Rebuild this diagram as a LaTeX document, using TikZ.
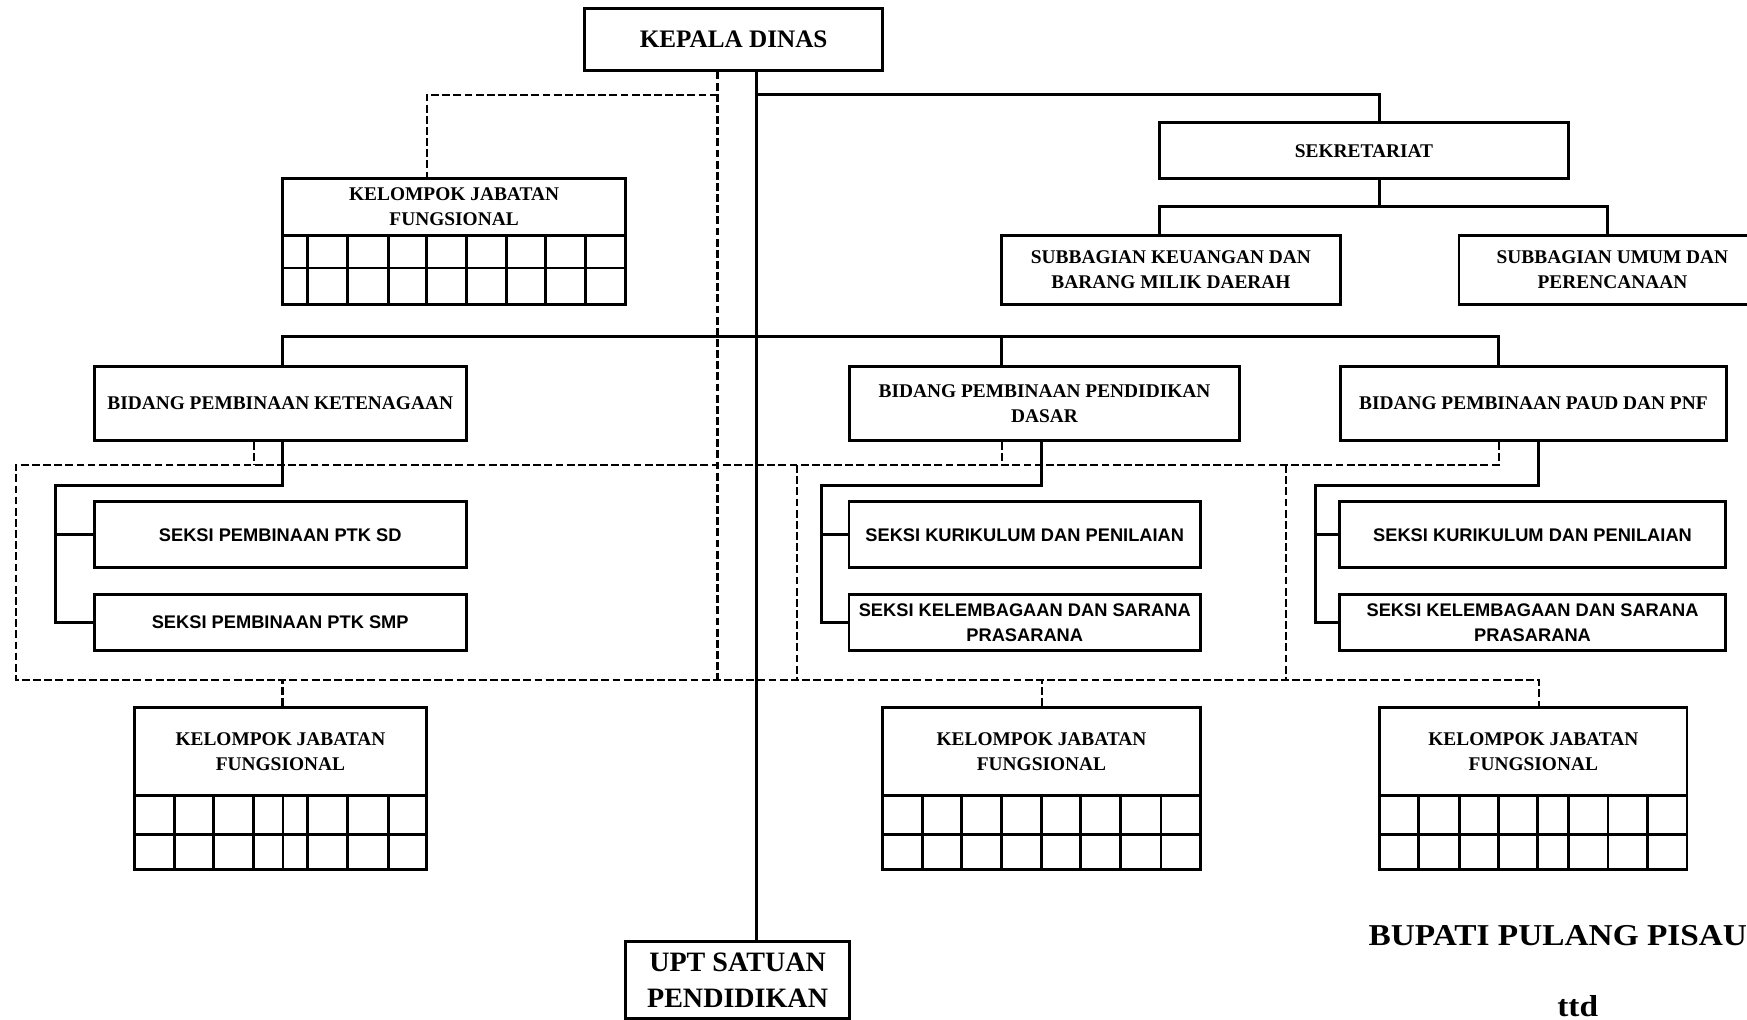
\documentclass[tikz,border=0pt]{standalone}
\usepackage{fontspec}
\setmainfont{Liberation Serif}
\setsansfont{Liberation Sans}
\newfontfamily\widserif[FakeStretch=1.1]{Liberation Serif}
\begin{document}
\begin{tikzpicture}[x=0.5pt,y=-0.5pt,
  ln/.style={line width=1.3pt},
  dl/.style={line width=0.95pt, dash pattern=on 3.5pt off 1.5pt},
  box/.style={draw, line width=1.3pt, inner sep=0pt, align=center},
  ser/.style={font=\fontsize{8.7pt}{11.25pt}\selectfont\bfseries},
  san/.style={font=\sffamily\bfseries\fontsize{8.2pt}{11pt}\selectfont},
  big/.style={font=\fontsize{12.6pt}{16pt}\selectfont\bfseries},
]
\useasboundingbox (0,0) rectangle (1568,915);
\begin{scope}
\clip (0,0) rectangle (1568,915);

% boxes
\node[box,minimum width=133.5pt,minimum height=27.5pt,font=\fontsize{11.3pt}{13pt}\selectfont\bfseries] (kepala) at (658.5,35.5) {KEPALA DINAS};
\node[box,ser,minimum width=183.25pt,minimum height=25.25pt] (sek) at (1224.25,135.25) {SEKRETARIAT};
\node[box,ser,minimum width=152.5pt,minimum height=30.75pt] (subkeu) at (1051,242.25) {SUBBAGIAN KEUANGAN DAN\\BARANG MILIK DAERAH};
\node[box,ser,minimum width=137.75pt,minimum height=30.75pt] (subum) at (1447.25,242.25) {SUBBAGIAN UMUM DAN\\PERENCANAAN};
\node[box,ser,minimum width=167pt,minimum height=33.25pt] (bid1) at (251.5,362.25) {BIDANG PEMBINAAN KETENAGAAN};
\node[box,ser,minimum width=175pt,minimum height=33.25pt] (bid2) at (937.5,362.25) {BIDANG PEMBINAAN PENDIDIKAN\\DASAR};
\node[box,ser,minimum width=173.25pt,minimum height=33.25pt] (bid3) at (1376.25,362.25) {BIDANG PEMBINAAN PAUD DAN PNF};
\node[box,san,minimum width=167pt,minimum height=29.5pt] (s1a) at (251.5,480) {SEKSI PEMBINAAN PTK SD};
\node[box,san,minimum width=167pt,minimum height=25.25pt] (s1b) at (251.5,558.75) {SEKSI PEMBINAAN PTK SMP};
\node[box,san,minimum width=157.75pt,minimum height=29.5pt] (s2a) at (919.75,480) {SEKSI KURIKULUM DAN PENILAIAN};
\node[box,san,minimum width=157.75pt,minimum height=25.25pt] (s2b) at (919.75,558.75) {SEKSI KELEMBAGAAN DAN SARANA\\PRASARANA};
\node[box,san,minimum width=173.5pt,minimum height=29.5pt] (s3a) at (1375.5,480) {SEKSI KURIKULUM DAN PENILAIAN};
\node[box,san,minimum width=173.5pt,minimum height=25.25pt] (s3b) at (1375.5,558.75) {SEKSI KELEMBAGAAN DAN SARANA\\PRASARANA};
\node[box,big,minimum width=100.5pt,minimum height=34.5pt] (upt) at (662,879.5) {UPT SATUAN\\PENDIDIKAN};

% kelompok jabatan fungsional
\node[box,ser,minimum width=154.05pt,minimum height=25.75pt] (kjf0) at (407.55,185.75) {KELOMPOK JABATAN\\FUNGSIONAL};
\node[box,ser,minimum width=131.1pt,minimum height=39.6pt] (kjf1) at (251.7,674.4) {KELOMPOK JABATAN\\FUNGSIONAL};
\node[box,ser,minimum width=142.6pt,minimum height=39.6pt] (kjf2) at (934.8,674.4) {KELOMPOK JABATAN\\FUNGSIONAL};
\node[box,ser,minimum width=137.9pt,minimum height=39.6pt] (kjf3) at (1376.2,674.4) {KELOMPOK JABATAN\\FUNGSIONAL};

\draw[ln] (253.5,211.5) rectangle (561.6,273.1) (253.5,240.5) -- (561.6,240.5);
\foreach \x in {276.2,312.2,348.3,382.8,418.3,454.4,489.5,525.5} \draw[ln] (\x,211.5) -- (\x,273.1);
\draw[ln] (120.6,714) rectangle (382.8,780) (120.6,749) -- (382.8,749);
\foreach \x in {156.6,191.6,227.2,254,276.2,312.2,348.3} \draw[ln] (\x,714) -- (\x,780);
\draw[ln] (792.2,714) rectangle (1077.4,780) (792.2,749) -- (1077.4,749);
\foreach \x in {828,863.2,899,934.8,970,1005.8,1042} \draw[ln] (\x,714) -- (\x,780);
\draw[ln] (1238.3,714) rectangle (1514.1,780) (1238.3,749) -- (1514.1,749);
\foreach \x in {1273.5,1309.8,1345,1380.3,1407.9,1443.2,1478.9} \draw[ln] (\x,714) -- (\x,780);

% signature
\node[anchor=base west,inner sep=0pt,font=\widserif\fontsize{13.6pt}{16pt}\selectfont\bfseries] (bupati) at (1228,849) {BUPATI PULANG PISAU};
\node[anchor=base,inner sep=0pt,font=\widserif\fontsize{13.6pt}{16pt}\selectfont\bfseries] (ttd) at (1416,912) {ttd};

% helper coordinates
\coordinate (xT) at (679,0);
\coordinate (xD) at (644,0);
\coordinate (jA) at (679,85);
\coordinate (xS) at (1238,85);
\coordinate (kk) at (1041,185);
\coordinate (uu) at (1443,185);
\coordinate (b1) at (253.5,302);
\coordinate (b2) at (898.5,302);
\coordinate (b3) at (1345,302);
\coordinate (f1) at (50,435.5);
\coordinate (f2) at (737,435.5);
\coordinate (f3) at (1181,435.5);
\coordinate (g2) at (935,0);
\coordinate (g3) at (1381,0);
\coordinate (h0) at (383,85);
\coordinate (dTL) at (14,417.5);
\coordinate (dTR) at (1345,417.5);
\coordinate (dBL) at (14,610);
\coordinate (dBR) at (1381,610);
\coordinate (v1) at (715,417.5);
\coordinate (v2) at (1154,417.5);
\coordinate (t1) at (228,417.5);
\coordinate (t2) at (899,417.5);

% solid connectors
\draw[ln] (kepala.south -| xT) -- (upt.north -| xT);
\draw[ln] (jA) -- (xS) -- (sek.north -| xS);
\draw[ln] (sek.south -| xS) -- (xS |- kk);
\draw[ln] (subkeu.north -| kk) -- (kk) -- (uu) -- (subum.north -| uu);
\draw[ln] (bid1.north -| b1) -- (b1) -- (b3) -- (bid3.north -| b3);
\draw[ln] (b2) -- (bid2.north -| b2);
\draw[ln] (bid1.south -| b1) |- (f1) |- (s1b.west);
\draw[ln] (f1 |- s1a.west) -- (s1a.west);
\draw[ln] (bid2.south -| g2) |- (f2) |- (s2b.west);
\draw[ln] (f2 |- s2a.west) -- (s2a.west);
\draw[ln] (bid3.south -| g3) |- (f3) |- (s3b.west);
\draw[ln] (f3 |- s3a.west) -- (s3a.west);

% dashed connectors
\draw[dl] (kepala.south -| xD) -- (xD |- dBL);
\draw[dl] (xD |- h0) -- (h0) -- (kjf0.north -| h0);
\draw[dl] (bid3.south -| dTR) -- (dTR) -- (dTL) -- (dBL) -- (dBR) -- (kjf3.north -| dBR);
\draw[dl] (v1) -- (v1 |- dBL);
\draw[dl] (v2) -- (v2 |- dBL);
\draw[dl] (bid1.south -| t1) -- (t1);
\draw[dl] (bid2.south -| t2) -- (t2);
\draw[dl] (kjf1.north -| b1) -- (b1 |- dBL);
\draw[dl] (kjf2.north -| g2) -- (g2 |- dBL);
\end{scope}
\end{tikzpicture}
\end{document}
